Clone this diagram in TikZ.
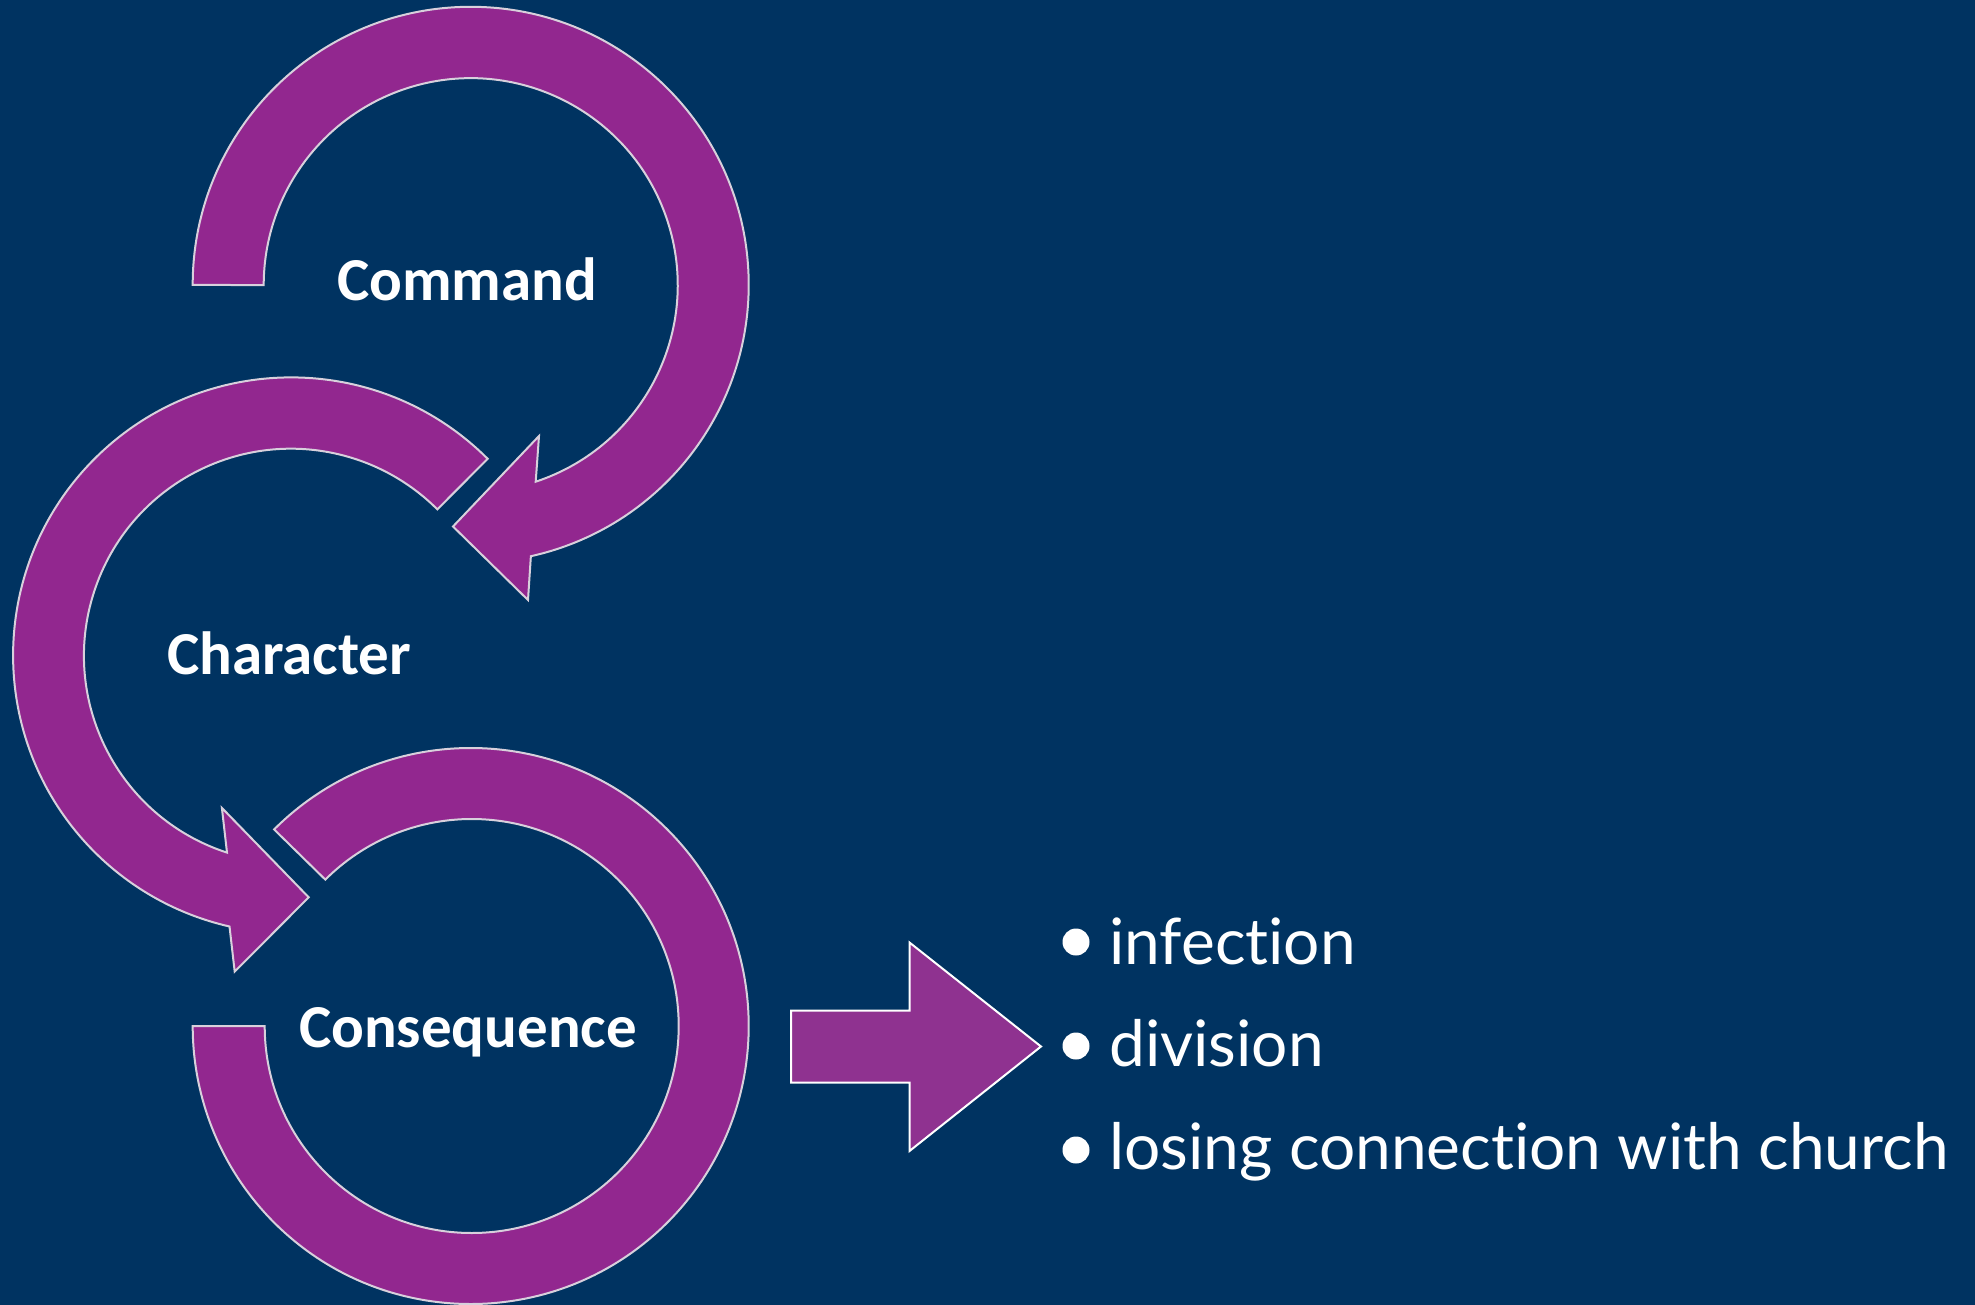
\documentclass[tikz,border=0pt]{standalone}
\usepackage{fontspec}
\setmainfont{Carlito}
\newfontfamily\listfont[Ligatures={NoCommon,NoRare,NoDiscretionary}]{Lato}
\definecolor{bgnavy}{HTML}{003361}
\definecolor{arcpurple}{HTML}{92278F}
\definecolor{arrowpurple}{HTML}{8F3290}
\definecolor{arcedge}{HTML}{D8D0DC}
\tikzset{
  arcband/.style={fill=arcpurple, draw=arcedge, line width=2pt, line join=miter},
  bigarrow/.style={fill=arrowpurple, draw=white, line width=2pt, line join=miter},
  cyclelabel/.style={text=white, font=\bfseries\fontsize{61}{70}\selectfont, inner sep=0pt, anchor=base},
  listitem/.style={text=white, font=\listfont\fontsize{64}{76}\selectfont, inner sep=0pt, anchor=base west},
  bulletdot/.style={circle, fill=white, minimum size=27pt, inner sep=0pt}
}
\begin{document}
\begin{tikzpicture}[x=1pt,y=-1pt]
\fill[bgnavy] (0,0) rectangle (1975,1305);
\useasboundingbox (0,0) rectangle (1975,1305);

% Command arc (clockwise, arrowhead at lower left)
\coordinate (cmdc) at (470.7,284.8);
\draw[arcband] (cmdc) ++(180:278) arc[start angle=180, end angle=437.5, radius=278]
  -- (528,600) -- (453,526.5) -- (539,436) -- (535.7,481.7)
  arc[start angle=431.7, end angle=180, radius=207] -- cycle;

% Character arc (counter-clockwise, arrowhead at lower right)
\coordinate (chc) at (291.1,655.4);
\draw[arcband] (chc) ++(-45:278) arc[start angle=-45, end angle=-257.2, radius=278]
  -- (234.7,971.6) -- (308.7,897.3) -- (221.9,807.9) -- (227,852.6)
  arc[start angle=-252, end angle=-45, radius=207] -- cycle;

% Consequence arc (no arrowhead)
\coordinate (csc) at (470.7,1026);
\draw[arcband] (csc) ++(225:278) arc[start angle=225, end angle=540, radius=278]
  -- ++(72,0) arc[start angle=540, end angle=225, radius=207] -- cycle;

% labels
\node[cyclelabel] (command) at (467,300.6) {Command};
\node[cyclelabel] (character) at (289,674) {Character};
\node[cyclelabel] (consequence) at (468,1047) {Consequence};

% right block arrow
\draw[bigarrow] (791,1010.5) -- (909.5,1010.5) -- (909.5,942.5) -- (1041,1046.5)
  -- (909.5,1151) -- (909.5,1082.5) -- (791,1082.5) -- cycle;

% bullet list
\node[bulletdot] (b1) at (1076,942) {};
\node[bulletdot] (b2) at (1076,1046) {};
\node[bulletdot] (b3) at (1076,1150) {};
\node[listitem] (t1) at (1109,964) {infection};
\node[listitem] (t2) at (1109,1066.5) {division};
\node[listitem] (t3) at (1109,1169) {losing connection with church};
\end{tikzpicture}
\end{document}
